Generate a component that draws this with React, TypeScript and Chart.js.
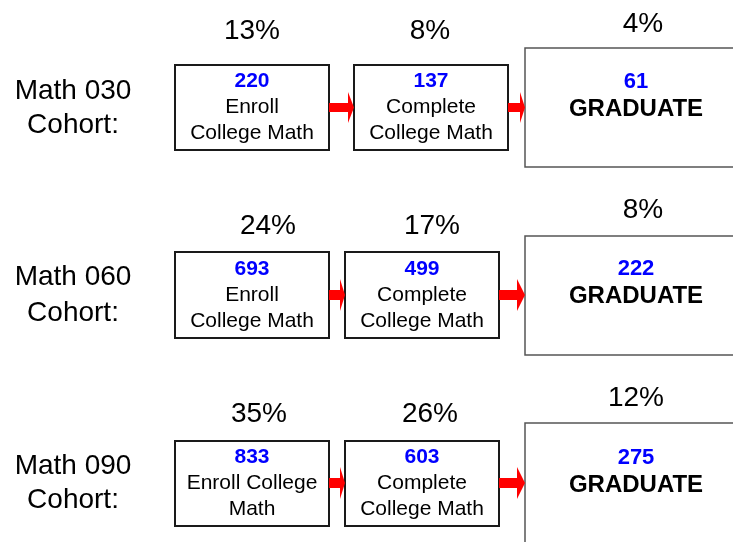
import React, { useEffect, useRef } from "react";
import { Chart, registerables } from "chart.js";

Chart.register(...registerables);

// ---- data ----
const cohorts = ["Math 030", "Math 060", "Math 090"];
const cohortSuffix = "Cohort:";
const enrollCounts = [220, 693, 833];
const completeCounts = [137, 499, 603];
const graduateCounts = [61, 222, 275];
const enrollPct = [13, 24, 35];
const completePct = [8, 17, 26];
const graduatePct = [4, 8, 12];
const enrollLabels = [
  ["Enroll", "College Math"],
  ["Enroll", "College Math"],
  ["Enroll College", "Math"],
];
const completeLabels = [
  ["Complete", "College Math"],
  ["Complete", "College Math"],
  ["Complete", "College Math"],
];
const graduateLabel = "GRADUATE";

// ---- layout (in scale units, which map 1:1 to the canvas) ----
type Row = {
  labelX: number;
  labelY: [number, number];
  b1: [number, number, number, number];
  b2: [number, number, number, number];
  b3: [number, number, number, number];
  pctX: [number, number, number];
  pctY: [number, number, number];
  textY: [number, number, number];
  gradY: [number, number];
  a1: [number, number, number];
  a2: [number, number, number];
  arrowY: number;
  shaftH: number;
  headH: number;
};
const LAYOUT: Row[] = [
  {
    labelX: 73, labelY: [90, 124],
    b1: [175, 65, 329, 150], b2: [354, 65, 508, 150], b3: [525, 48, 760, 167],
    pctX: [252, 430, 643], pctY: [30, 30, 23],
    textY: [80, 106, 132], gradY: [80, 108],
    a1: [329, 348, 354], a2: [508, 520, 525], arrowY: 107.5, shaftH: 4.5, headH: 15.5,
  },
  {
    labelX: 73, labelY: [276, 312],
    b1: [175, 252, 329, 338], b2: [345, 252, 499, 338], b3: [525, 236, 760, 355],
    pctX: [268, 432, 643], pctY: [225, 225, 209],
    textY: [268, 294, 320], gradY: [267, 295],
    a1: [329, 340, 345], a2: [499, 517, 525], arrowY: 295, shaftH: 5, headH: 16,
  },
  {
    labelX: 73, labelY: [465, 499],
    b1: [175, 441, 329, 526], b2: [345, 441, 499, 526], b3: [525, 423, 760, 580],
    pctX: [259, 430, 636], pctY: [413, 413, 397],
    textY: [456, 482, 508], gradY: [456, 484],
    a1: [329, 340, 345], a2: [499, 517, 525], arrowY: 483, shaftH: 5, headH: 16,
  },
];

const FONT = "'Liberation Sans', Arial, sans-serif";
const TEXT_DY = 1.5;

const diagramPlugin = {
  id: "flowDiagram",
  afterDatasetsDraw(chart: any) {
    const ctx: CanvasRenderingContext2D = chart.ctx;
    const xs = chart.scales.x;
    const ys = chart.scales.y;
    const X = (v: number) => xs.getPixelForValue(v);
    const Y = (v: number) => ys.getPixelForValue(v);

    const box = (b: number[], color: string, lw: number) => {
      const x0 = X(b[0]), y0 = Y(b[1]), x1 = X(b[2]), y1 = Y(b[3]);
      ctx.save();
      ctx.fillStyle = "#ffffff";
      ctx.fillRect(x0, y0, x1 - x0, y1 - y0);
      ctx.strokeStyle = color;
      ctx.lineWidth = lw;
      ctx.strokeRect(x0, y0, x1 - x0, y1 - y0);
      ctx.restore();
    };
    const text = (s: string, x: number, y: number, size: number, color: string, bold: boolean) => {
      ctx.save();
      ctx.font = `${bold ? "bold " : ""}${size}px ${FONT}`;
      ctx.fillStyle = color;
      ctx.textAlign = "center";
      ctx.textBaseline = "middle";
      ctx.fillText(s, X(x), Y(y + TEXT_DY));
      ctx.restore();
    };
    const arrow = (a: number[], cy: number, sh: number, hh: number) => {
      ctx.save();
      ctx.fillStyle = "#ff0000";
      ctx.beginPath();
      ctx.moveTo(X(a[0]), Y(cy - sh));
      ctx.lineTo(X(a[1]), Y(cy - sh));
      ctx.lineTo(X(a[1]), Y(cy - hh));
      ctx.lineTo(X(a[2]), Y(cy));
      ctx.lineTo(X(a[1]), Y(cy + hh));
      ctx.lineTo(X(a[1]), Y(cy + sh));
      ctx.lineTo(X(a[0]), Y(cy + sh));
      ctx.closePath();
      ctx.fill();
      ctx.restore();
    };

    LAYOUT.forEach((L, i) => {
      text(cohorts[i], L.labelX, L.labelY[0], 28, "#000", false);
      text(cohortSuffix, L.labelX, L.labelY[1], 28, "#000", false);
      text(`${enrollPct[i]}%`, L.pctX[0], L.pctY[0], 28, "#000", false);
      text(`${completePct[i]}%`, L.pctX[1], L.pctY[1], 28, "#000", false);
      text(`${graduatePct[i]}%`, L.pctX[2], L.pctY[2], 28, "#000", false);
      box(L.b1, "#1a1a1a", 2);
      box(L.b2, "#1a1a1a", 2);
      box(L.b3, "#555555", 1.5);
      arrow(L.a1, L.arrowY, L.shaftH, L.headH);
      arrow(L.a2, L.arrowY, L.shaftH, L.headH);
      const c1 = (L.b1[0] + L.b1[2]) / 2;
      text(String(enrollCounts[i]), c1, L.textY[0], 21, "#0000ff", true);
      text(enrollLabels[i][0], c1, L.textY[1], 21, "#000", false);
      text(enrollLabels[i][1], c1, L.textY[2], 21, "#000", false);
      const c2 = (L.b2[0] + L.b2[2]) / 2;
      text(String(completeCounts[i]), c2, L.textY[0], 21, "#0000ff", true);
      text(completeLabels[i][0], c2, L.textY[1], 21, "#000", false);
      text(completeLabels[i][1], c2, L.textY[2], 21, "#000", false);
      text(String(graduateCounts[i]), 636, L.gradY[0], 22, "#0000ff", true);
      text(graduateLabel, 636, L.gradY[1], 24, "#000", true);
    });
  },
};

export default function App() {
  const canvasRef = useRef<HTMLCanvasElement | null>(null);

  useEffect(() => {
    document.body.style.margin = "0";
    const canvas = canvasRef.current;
    if (!canvas) return;
    const chart = new Chart(canvas, {
      type: "scatter",
      data: { datasets: [{ data: [], pointRadius: 0 }] },
      options: {
        animation: false,
        responsive: false,
        devicePixelRatio: 1,
        layout: { padding: 0 },
        plugins: { legend: { display: false }, tooltip: { enabled: false } },
        scales: {
          x: { type: "linear", min: 0, max: 733, display: false },
          y: { type: "linear", min: 0, max: 542, reverse: true, display: false },
        },
      },
      plugins: [diagramPlugin],
    });
    return () => chart.destroy();
  }, []);

  return (
    <div style={{ position: "absolute", left: 0, top: 0, width: 733, height: 542, background: "#fff" }}>
      <canvas ref={canvasRef} width={733} height={542} style={{ width: 733, height: 542 }} />
    </div>
  );
}
